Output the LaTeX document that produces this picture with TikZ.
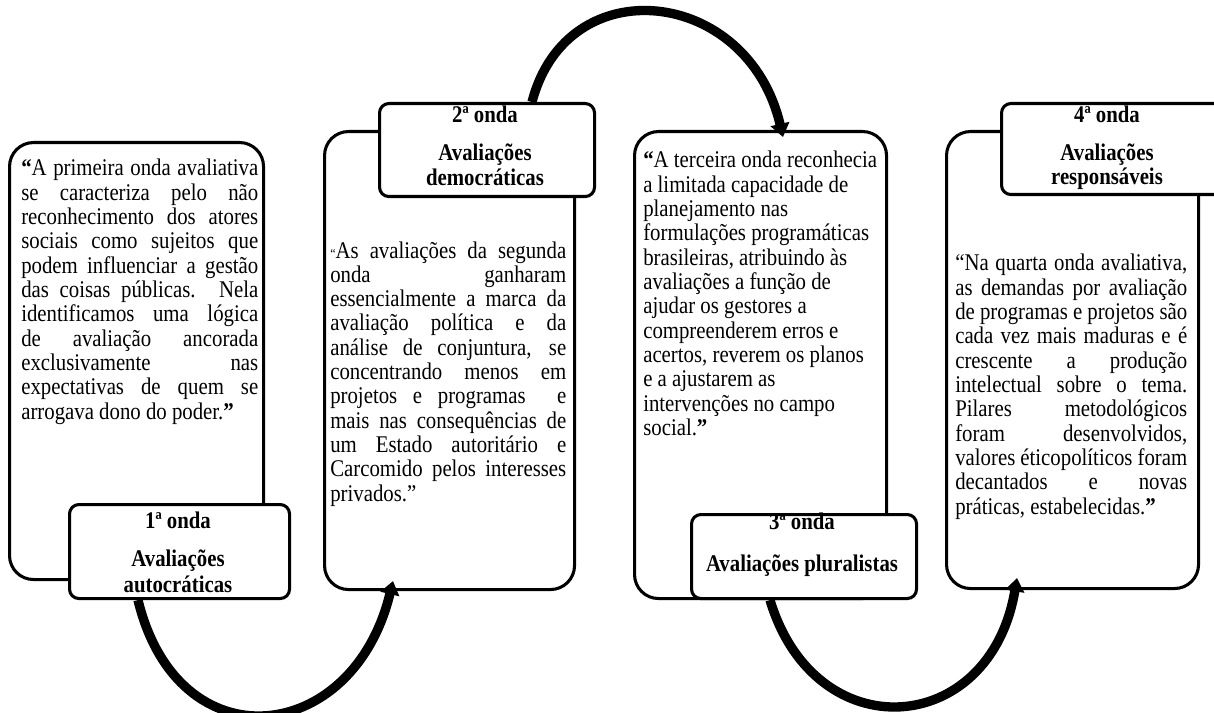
\documentclass[tikz,border=0pt]{standalone}
\usepackage{graphicx}
\usepackage{fontspec}
\setmainfont{Liberation Serif}
\usetikzlibrary{arrows.meta}
\newcommand{\vst}[1]{\scalebox{1}[1.15]{#1}}
\begin{document}
\begin{tikzpicture}[x=0.75pt,y=0.75pt,
  bigbox/.style={draw=black, line width=2.3pt, rounded corners=18pt, fill=white, anchor=north west, inner sep=0pt},
  labelbox/.style={draw=black, line width=2.3pt, rounded corners=7pt, fill=white, anchor=north west, inner sep=0pt},
  bodytext/.style={anchor=base west, inner sep=0pt, font=\fontsize{15.6}{15.85}\selectfont},
  labeltext/.style={anchor=base, inner sep=0pt, font=\fontsize{15.6}{15.85}\selectfont\bfseries},
  wave/.style={line width=7pt, -{Triangle[length=10pt,width=14pt]}}
]
\useasboundingbox (0,0) rectangle (1214,-713);

% ---- wave 1
\node[bigbox, minimum width=190.5pt, minimum height=327.75pt] (b1) at (8,-141) {};
\node[bodytext] (t1) at (21,-176) {\vst{\parbox[t]{177.75pt}{{\bfseries “}A primeira onda avaliativa\linebreak
se caracteriza pelo não\linebreak
reconhecimento dos atores\linebreak
sociais como sujeitos que\linebreak
podem influenciar a gestão\linebreak
das coisas públicas. Nela\linebreak
identificamos uma lógica\linebreak
de avaliação ancorada\linebreak
exclusivamente nas\linebreak
expectativas de quem se\linebreak
arrogava dono do poder.{\bfseries ”}}}};
\node[labelbox, minimum width=165pt, minimum height=70.5pt] (l1) at (68,-503) {};
\node[labeltext] (l1a) at (178,-528) {\vst{1ª onda}};
\node[labeltext] (l1b) at (178,-566) {\vst{Avaliações}};
\node[labeltext] (l1c) at (178,-592) {\vst{autocráticas}};

% ---- wave 2
\node[bigbox, minimum width=187.5pt, minimum height=343.5pt] (b2) at (323,-130) {};
\node[bodytext] (t2) at (330,-258) {\vst{\parbox[t]{177pt}{{\fontsize{9}{9}\selectfont “}As avaliações da segunda\linebreak
onda ganharam\linebreak
essencialmente a marca da\linebreak
avaliação política e da\linebreak
análise de conjuntura, se\linebreak
concentrando menos em\linebreak
projetos e programas \ e\linebreak
mais nas consequências de\linebreak
um Estado autoritário e\linebreak
Carcomido pelos interesses\linebreak
privados.”}}};
\node[labelbox, minimum width=161.25pt, minimum height=69.75pt] (l2) at (378,-102) {};
\node[labeltext] (l2a) at (485,-123) {\vst{2ª onda}};
\node[labeltext] (l2b) at (485,-161) {\vst{Avaliações}};
\node[labeltext] (l2c) at (485,-186) {\vst{democráticas}};

% ---- wave 3
\node[bigbox, minimum width=189pt, minimum height=350.25pt] (b3) at (633,-130) {};
\node[bodytext] (t3) at (643,-168) {\vst{\parbox[t]{180pt}{\raggedright{\bfseries “}A terceira onda reconhecia\\
a limitada capacidade de\\
planejamento nas\\
formulações programáticas\\
brasileiras, atribuindo às\\
avaliações a função de\\
ajudar os gestores a\\
compreenderem erros e\\
acertos, reverem os planos\\
e a ajustarem as\\
intervenções no campo\\
social.{\bfseries ”}}}};
\node[labelbox, minimum width=168.75pt, minimum height=63pt] (l3) at (690,-513) {};
\node[labeltext] (l3a) at (802,-529) {\vst{3ª onda}};
\node[labeltext] (l3b) at (802,-571) {\vst{Avaliações pluralistas}};

% ---- wave 4
\node[bigbox, minimum width=189pt, minimum height=342.75pt] (b4) at (945,-130) {};
\node[bodytext] (t4) at (955,-271) {\vst{\parbox[t]{174pt}{“Na quarta onda avaliativa,\linebreak
as demandas por avaliação\linebreak
de programas e projetos são\linebreak
cada vez mais maduras e é\linebreak
crescente a produção\linebreak
intelectual sobre o tema.\linebreak
Pilares metodológicos\linebreak
foram desenvolvidos,\linebreak
valores éticopolíticos foram\linebreak
decantados e novas\linebreak
práticas, estabelecidas.{\bfseries ”}}}};
\node[labelbox, minimum width=168.75pt, minimum height=68.25pt] (l4) at (1000,-102) {};
\node[labeltext] (l4a) at (1107,-123) {\vst{4ª onda}};
\node[labeltext] (l4b) at (1107,-161) {\vst{Avaliações}};
\node[labeltext] (l4c) at (1107,-185) {\vst{responsáveis}};

% ---- connecting waves
\draw[wave] ([xshift=52.5pt]l1.south west) .. controls +(40,-165) and +(-40,-165) .. ([xshift=52.5pt,yshift=7.5pt]b2.south west);
\draw[wave] ([xshift=115.5pt]l2.north west) .. controls +(35,135) and +(-35,150) .. ([xshift=112.5pt,yshift=-5.25pt]b3.north west);
\draw[wave] ([xshift=60pt]l3.south west) .. controls +(45,-150) and +(-27,-160) .. ([xshift=54pt,yshift=9pt]b4.south west);
\end{tikzpicture}
\end{document}
